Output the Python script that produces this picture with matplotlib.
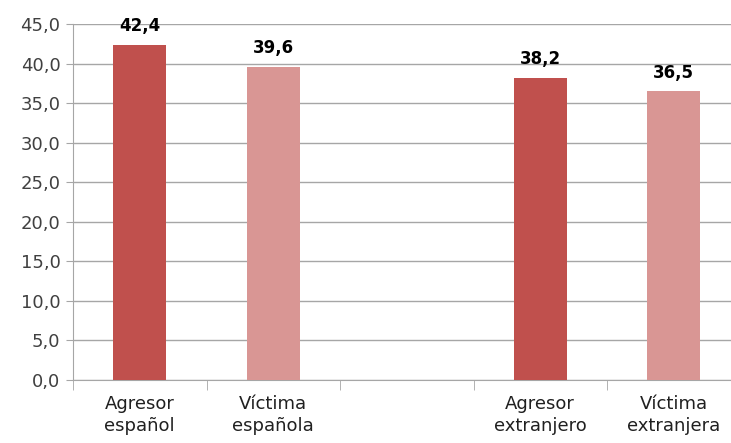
import matplotlib.pyplot as plt

# Data
categories = ["Agresor\nespañol", "Víctima\nespañola", "", "Agresor\nextranjero", "Víctima\nextranjera"]
positions = [0, 1, 3, 4]
values = [42.4, 39.6, 38.2, 36.5]
colors = ["#C0504D", "#D99694", "#C0504D", "#D99694"]
yticks = [0, 5, 10, 15, 20, 25, 30, 35, 40, 45]

plt.rcParams['font.family'] = ['DejaVu Sans']

fig = plt.figure(figsize=(7.31, 4.43), dpi=100)
ax = fig.add_axes([73 / 731, 63 / 443, 667.5 / 731, 356 / 443])

bars = ax.bar(positions, values, width=0.4, color=colors, zorder=3)

for x, v in zip(positions, values):
    ax.annotate(f"{v:.1f}".replace(".", ","), (x, v), xytext=(0, 7),
                textcoords="offset points", ha="center", va="bottom",
                fontsize=12, fontweight="bold", color="black")

ax.set_xlim(-0.5, 4.5)
ax.set_ylim(0, 45)
ax.set_yticks(yticks)
ax.set_yticklabels([f"{t:.1f}".replace(".", ",") for t in yticks], fontsize=13, color="#404040")
ax.yaxis.grid(True, color="#A6A6A6", linewidth=1, zorder=0)
ax.tick_params(axis="y", length=5, color="#A6A6A6", pad=4)

ax.set_xticks(range(5))
ax.set_xticklabels(categories, fontsize=13, color="#202020", linespacing=1.25)
ax.set_xticks([-0.5, 0.5, 1.5, 2.5, 3.5, 4.5], minor=True)
ax.tick_params(axis="x", which="major", length=0, pad=11)
ax.tick_params(axis="x", which="minor", length=7, color="#A6A6A6")

for s in ["top", "right"]:
    ax.spines[s].set_visible(False)
for s in ["left", "bottom"]:
    ax.spines[s].set_color("#A6A6A6")

plt.savefig("out.png", dpi=100)
